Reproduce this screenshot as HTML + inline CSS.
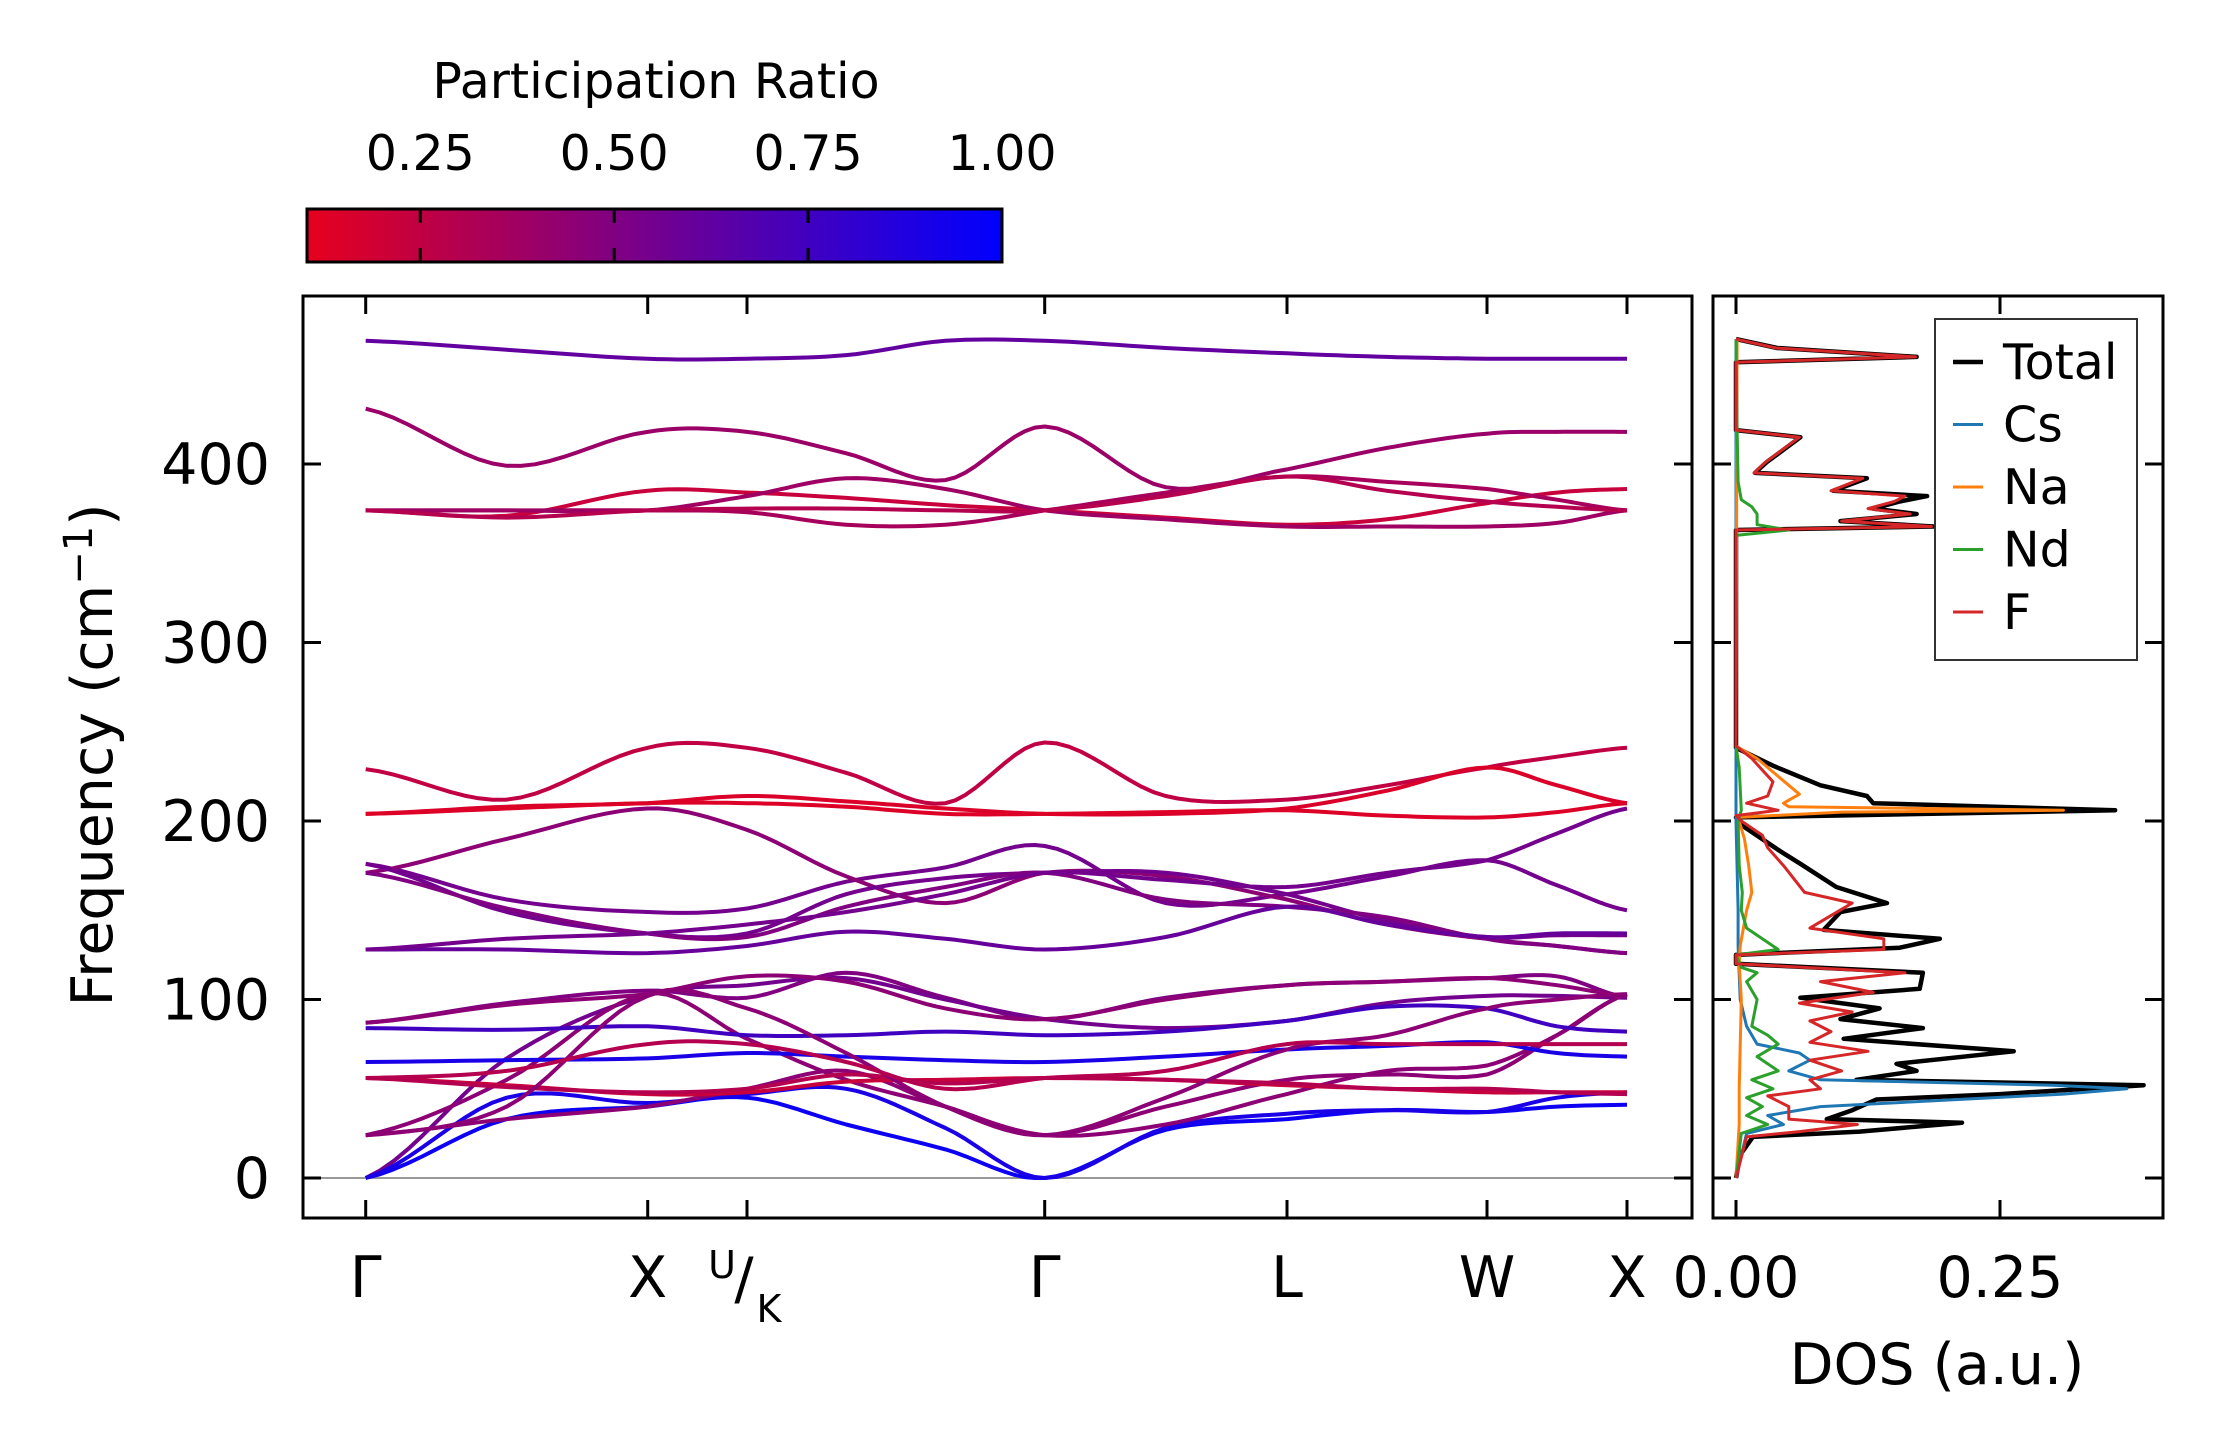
<!DOCTYPE html>
<html><head><meta charset="utf-8"><style>
html,body{margin:0;padding:0;background:#fff}
svg{display:block}
text{font-family:"DejaVu Sans","Liberation Sans",sans-serif;fill:#000}
</style></head><body>
<svg id="fig" width="2222" height="1455" viewBox="0 0 2222 1455" xmlns="http://www.w3.org/2000/svg">
<defs><linearGradient id="cmap" x1="0" x2="1" y1="0" y2="0">
<stop offset="0" stop-color="rgb(230,0,30)"/><stop offset="1" stop-color="rgb(0,0,255)"/></linearGradient></defs>
<g id="cbar">
<text x="656" y="98" font-size="49" text-anchor="middle">Participation Ratio</text>
<rect x="307" y="209" width="695" height="53" fill="url(#cmap)" stroke="#000" stroke-width="3"/>
</g>
<g id="bands"></g>
<g id="dos"></g>
</svg>
<script>
// ---- band structure data ----
const kLabels = ["Γ","X","U/K","Γ","L","W","X"];
const kNodeIdx = [0,2,3,6,8,10,12];
const kPos = [0,141,282,381.3,480.5,579.7,679,800,921.3,1021.3,1121.3,1191.3,1261.3];
const band01 = [469,464,459,459,461,469,469,465,462,460,459,459,459];
const band02 = [431,399,418,418,406,391,421,387,397,409,417,418,418];
const band03 = [374,371,385,384,381,377,374,370,366,369,378,384,386];
const band04 = [374,374,374,373,366,366,374,384,393,390,386,380,374];
const band05 = [374,374,374,382,392,386,374,369,365,365,365,367,374];
const band06 = [374,370,374,375,375,374,374,382,393,385,379,376,374];
const band07 = [229,212,241,241,227,210,244,214,212,220,230,236,241];
const band08 = [204,208,210,214,211,207,204,204,207,217,230,220,210];
const band09 = [204,207,210,210,208,204,204,205,206,203,202,205,210];
const band10 = [176,156,149,151,166,174,186,154,159,169,178,164,150];
const band11 = [171,190,207,195,169,154,171,169,156,142,134,130,126];
const band12 = [176,149,137,137,159,168,171,171,159,144,135,136,136];
const band13 = [171,151,137,135,152,163,171,156,152,146,134,130,126];
const band14 = [128,128,126,130,138,134,128,135,152,142,135,137,137];
const band15 = [128,134,137,142,149,159,171,167,163,171,178,193,207];
const band16 = [87,98,105,101,115,101,89,101,108,110,112,113,101];
const band17 = [0,67,102,108,112,100,89,84,88,98,102,102,101];
const band18 = [0,33,40,45,30,16,0,27,33,38,37,40,41];
const band19 = [0,45,42,47,50,28,0,28,36,38,37,45,48];
const band20 = [24,33,40,50,60,40,24,30,47,60,63,80,103];
const band21 = [24,55,103,78,55,40,24,40,55,58,58,80,103];
const band22 = [56,52,47,48,54,55,56,55,52,50,48,48,48];
const band23 = [56,51,48,50,58,53,56,55,53,50,50,48,47];
const band24 = [65,66,67,70,68,66,65,68,72,74,76,70,68];
const band25 = [84,83,85,80,80,82,80,82,88,96,95,85,82];
const band26 = [87,97,103,113,110,95,89,100,108,110,112,108,102];
const band27 = [24,40,102,95,70,40,24,45,72,80,95,100,103];
const band28 = [56,60,75,75,65,50,56,60,75,75,75,75,75];
const bands = [band01,band02,band03,band04,band05,band06,band07,band08,band09,band10,band11,band12,band13,band14,band15,band16,band17,band18,band19,band20,band21,band22,band23,band24,band25,band26,band27,band28];
const bandPR = [0.62,0.4,0.22,0.35,0.38,0.3,0.25,0.15,0.14,0.55,0.45,0.55,0.5,0.6,0.55,0.5,0.55,0.95,0.9,0.45,0.45,0.22,0.3,0.9,0.75,0.45,0.45,0.3];
const yTicks = [0,100,200,300,400];
const cbarTicks = [0.25,0.5,0.75,1.0];
const cbarTickLabels = ["0.25","0.50","0.75","1.00"];
// ---- DOS data ----
const dosTotF = [0,13,23,26,31,33,38,44,47,52,55,60,64,71,78,84,89,95,101,106,115,120,125,129,134,139,149,154,163,176,183,197,202,206,210,214,220,231,241,363,365,368,372,375,379,382,385,392,395,401,415,419,457,460,465,470];
const dosTotV = [0,.004,.016,.117,.214,.086,.11,.133,.25,.386,.114,.171,.152,.263,.102,.177,.099,.136,.061,.174,.177,0,0,.155,.193,.083,.099,.143,.095,.061,.042,.007,0,.359,.13,.124,.08,.035,0,0,.187,.099,.171,.13,.155,.181,.092,.124,.018,.029,.061,0,0,.171,.039,0];
const dosFF = [0,23,26,30,33,40,46,50,55,60,66,71,76,82,88,93,98,104,110,115,120,125,128,134,140,147,154,160,175,185,192,200,203,206,210,214,222,235,242,363,365,368,372,375,379,382,385,392,395,401,415,419,457,460,465,470];
const dosFV = [0,.01,.06,.115,.05,.05,.03,.08,.07,.1,.07,.125,.07,.09,.07,.11,.06,.13,.08,.16,0,0,.14,.14,.07,.09,.11,.065,.045,.03,.025,.005,0,.04,.01,.03,.035,.015,0,0,.185,.1,.165,.125,.15,.16,.09,.12,.017,.028,.06,0,0,.17,.038,0];
const dosCsF = [0,25,30,35,40,47,50,52,55,60,66,70,75,85,100,130,150,200,470];
const dosCsV = [0,.01,.045,.03,.08,.31,.37,.3,.08,.05,.07,.06,.02,.01,.004,.002,.002,0,0];
const dosNaF = [0,30,50,100,120,130,150,160,175,190,202,205,206,208,210,215,225,235,242,470];
const dosNaV = [0,.003,.003,.005,.003,.004,.01,.015,.012,.008,.002,.1,.31,.05,.045,.06,.04,.02,0,.001];
const dosNdF = [0,25,30,35,40,45,50,55,60,68,75,80,85,100,110,115,118,125,128,132,140,150,160,175,200,206,230,242,360,363,366,372,376,380,390,420,470];
const dosNdV = [0,.005,.03,.01,.025,.01,.035,.015,.04,.02,.04,.03,.015,.02,.01,.02,.005,0,.04,.03,.01,.005,.006,.003,.002,.005,.003,0,0,.05,.02,.02,.015,.005,.002,.001,0];
const dosXTicks = [0,0.25];
const dosXTickLabels = ["0.00","0.25"];
const legendNames = ["Total","Cs","Na","Nd","F"];
const legendColors = ["#000000","#1f77b4","#ff7f0e","#2ca02c","#d62728"];

const NS="http://www.w3.org/2000/svg";
function mk(tag,attrs,parent){const e=document.createElementNS(NS,tag);for(const k in attrs)e.setAttribute(k,attrs[k]);parent.appendChild(e);return e;}
const AX={l:303,r:1692,t:296,b:1218};
const DX={l:1713,r:2163,t:296,b:1218};
const kx0=365.7, kx1=1627;
function xK(k){return kx0+(k-kPos[0])/(kPos[kPos.length-1]-kPos[0])*(kx1-kx0);}
function yF(f){return 1178-f*1.785;}
function xD(d){return 1736+d*1056;}
function cmap(p){const t=Math.max(0,Math.min(1,(p-0.104)/0.896));return `rgb(${Math.round(230*(1-t))},0,${Math.round(30+225*t)})`;}
function xC(p){return 307+(p-0.104)/0.896*695;}

const cb=document.getElementById('cbar');
cbarTicks.forEach((p,i)=>{
  const x=xC(p);
  if(p<0.99){
    const t1=mk('line',{x1:x,x2:x,y1:209,y2:223,stroke:'#000','stroke-width':3},cb);
    
    
    const t2=mk('line',{x1:x,x2:x,y1:248,y2:262,stroke:'#000','stroke-width':3},cb);
    
    
  }
  const tl=mk('text',{x:x,y:170,'font-size':49,'text-anchor':'middle'},cb);
  tl.textContent=cbarTickLabels[i];
  
  
});

const bg=document.getElementById('bands');
const zl=mk('line',{x1:AX.l,x2:AX.r,y1:yF(0),y2:yF(0),stroke:'#999','stroke-width':2},bg);


function cr(p0,p1,p2,p3,t){const t2=t*t,t3=t2*t;return 0.5*((2*p1)+(-p0+p2)*t+(2*p0-5*p1+4*p2-p3)*t2+(-p0+3*p1-3*p2+p3)*t3);}
bands.forEach((b,bi)=>{
  const g=mk('g',{},bg);
  
  
  const col=cmap(bandPR[bi]);
  let d='';
  for(let i=0;i<b.length-1;i++){
    const i0=Math.max(0,i-1),i3=Math.min(b.length-1,i+2);
    for(let s=0;s<=10;s++){
      const t=s/10;
      const k=kPos[i]+(kPos[i+1]-kPos[i])*t;
      let f=Math.max(0,cr(b[i0],b[i],b[i+1],b[i3],t));
      d+=(d?'L':'M')+xK(k).toFixed(1)+','+yF(f).toFixed(1);
    }
  }
  mk('path',{d:d,fill:'none',stroke:col,'stroke-width':4,'stroke-linejoin':'round'},g);
});
const fr=mk('rect',{x:AX.l,y:AX.t,width:AX.r-AX.l,height:AX.b-AX.t,fill:'none',stroke:'#000','stroke-width':3},bg);


yTicks.forEach(v=>{
  const y=yF(v);
  mk('line',{x1:AX.l,x2:AX.l+18,y1:y,y2:y,stroke:'#000','stroke-width':3},bg);
  mk('line',{x1:AX.r-18,x2:AX.r,y1:y,y2:y,stroke:'#000','stroke-width':3},bg);
  mk('line',{x1:DX.l,x2:DX.l+18,y1:y,y2:y,stroke:'#000','stroke-width':3},bg);
  mk('line',{x1:DX.r-18,x2:DX.r,y1:y,y2:y,stroke:'#000','stroke-width':3},bg);
  const t=mk('text',{x:270,y:y+20,'font-size':57,'text-anchor':'end'},bg);
  t.textContent=String(v);
  
  
});
kNodeIdx.forEach((ni,i)=>{
  const x=xK(kPos[ni]);
  mk('line',{x1:x,x2:x,y1:AX.t,y2:AX.t+18,stroke:'#000','stroke-width':3},bg);
  mk('line',{x1:x,x2:x,y1:AX.b-18,y2:AX.b,stroke:'#000','stroke-width':3},bg);
  if(kLabels[i]==="U/K"){
    const g=mk('g',{},bg);
    
    
    const a=mk('text',{x:x-25,y:1278,'font-size':38,'text-anchor':'middle'},g);a.textContent='U';
    const s=mk('text',{x:x-3,y:1298,'font-size':57,'text-anchor':'middle'},g);s.textContent='/';
    const c=mk('text',{x:x+22,y:1322,'font-size':38,'text-anchor':'middle'},g);c.textContent='K';
  } else {
    const t=mk('text',{x:x,y:1297,'font-size':57,'text-anchor':'middle'},bg);
    t.textContent=kLabels[i];
    
    
  }
});
const yl=mk('text',{x:0,y:0,'font-size':57,'text-anchor':'middle',transform:'translate(112,755) rotate(-90)'},bg);
yl.innerHTML='Frequency (cm<tspan font-size="40" dy="-20">−1</tspan><tspan dy="20">)</tspan>';



const dg=document.getElementById('dos');
const series=[[dosTotF,dosTotV,'#000',4.5],[dosCsF,dosCsV,'#1f77b4',3],[dosNaF,dosNaV,'#ff7f0e',3],[dosNdF,dosNdV,'#2ca02c',3],[dosFF,dosFV,'#d62728',3]];
const sNames=['dos-total-line','dos-cs-line','dos-na-line','dos-nd-line','dos-f-line'];
series.forEach((s,si)=>{
  let d='';
  s[0].forEach((f,i)=>{d+=(i?'L':'M')+xD(s[1][i]).toFixed(1)+','+yF(f).toFixed(1);});
  const p=mk('path',{d:d,fill:'none',stroke:s[2],'stroke-width':s[3],'stroke-linejoin':'round'},dg);
  
  
});
const df=mk('rect',{x:DX.l,y:DX.t,width:DX.r-DX.l,height:DX.b-DX.t,fill:'none',stroke:'#000','stroke-width':3},dg);


dosXTicks.forEach((v,i)=>{
  const x=xD(v);
  mk('line',{x1:x,x2:x,y1:DX.t,y2:DX.t+18,stroke:'#000','stroke-width':3},dg);
  mk('line',{x1:x,x2:x,y1:DX.b-18,y2:DX.b,stroke:'#000','stroke-width':3},dg);
  const t=mk('text',{x:x,y:1297,'font-size':57,'text-anchor':'middle'},dg);
  t.textContent=dosXTickLabels[i];
  
  
});
const dl=mk('text',{x:1937,y:1384,'font-size':57,'text-anchor':'middle'},dg);
dl.textContent='DOS (a.u.)';


const lg=mk('g',{},dg);


mk('rect',{x:1935,y:319,width:202,height:341,fill:'#fff',stroke:'#333','stroke-width':2},lg);
legendNames.forEach((n,i)=>{
  const y=362+i*62.5;
  const e=mk('g',{},lg);
  
  
  mk('line',{x1:1953,x2:1983,y1:y,y2:y,stroke:legendColors[i],'stroke-width':i?3:4.5},e);
  const t=mk('text',{x:2003,y:y+17,'font-size':49},e);
  t.textContent=n;
});
</script>
</body></html>
